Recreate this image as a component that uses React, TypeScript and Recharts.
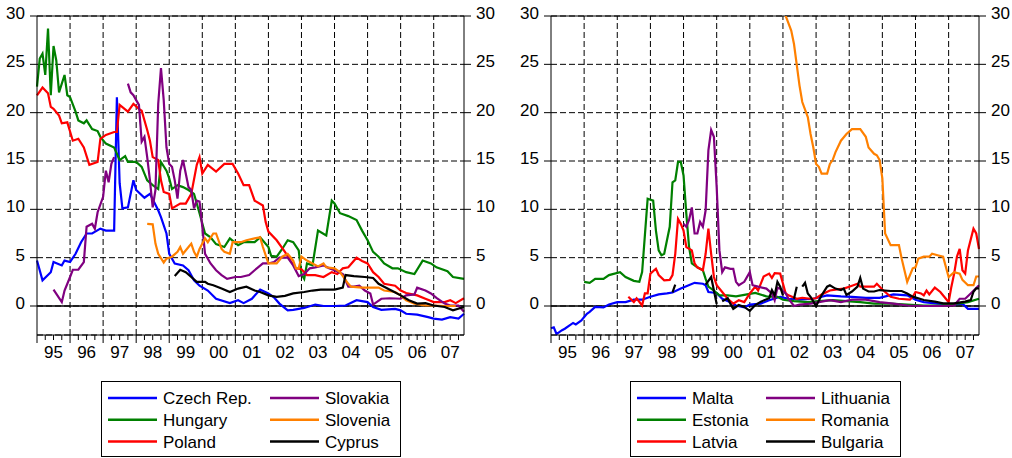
import { LineChart, Line, XAxis, YAxis, CartesianGrid, ReferenceLine } from "recharts"

type Pt = [number, number | null]

// month index from Jan 1995 (0) to Dec 2007 (155), value in %
const czech: Pt[] = [[0,4.7],[2,2.65],[5,3.5],[6,4.55],[9,4.2],[10,4.7],[12,4.55],[14,5.4],[16,6.6],[18,7.5],[20,7.5],[23,8.0],[25,7.8],[28,7.8],[29,21.6],[30,12.7],[31,10.1],[33,10.2],[35,13.0],[36,12.0],[39,11.2],[41,11.6],[44,9.9],[45,9.2],[47,7.5],[48,5.4],[50,4.4],[53,4.2],[55,3.7],[57,2.65],[59,2.1],[62,1.6],[65,0.75],[70,0.3],[73,0.6],[75,0.3],[78,0.75],[81,1.7],[84,1.3],[86,0.9],[88,0.25],[91,-0.45],[93,-0.4],[97,-0.2],[101,0.15],[104,0],[108,0],[112,0.05],[116,0.6],[120,0.4],[122,-0.1],[125,-0.4],[130,-0.3],[132,-0.45],[134,-0.8],[138,-0.9],[142,-1.15],[144,-1.3],[147,-1.4],[150,-1.15],[153,-1.3],[155,-0.8]]
const hungary: Pt[] = [[0,22.7],[1,25.6],[2,26.1],[3,23.9],[4,28.7],[5,21.8],[6,26.9],[7,25.4],[8,22.1],[10,23.9],[11,21.8],[12,21.6],[14,20.1],[15,19.2],[17,18.9],[18,19.2],[20,18.3],[22,18.1],[23,17.5],[25,16.8],[28,16.4],[30,15.1],[32,15.5],[33,14.9],[36,14.9],[38,14.4],[40,13.0],[42,12.5],[44,12.1],[45,14.9],[47,14.0],[48,13.2],[49,12.1],[51,12.5],[53,12.3],[55,12.0],[57,11.6],[59,9.6],[61,7.5],[63,7.1],[65,6.4],[68,6.1],[70,7.0],[73,6.3],[75,6.6],[79,6.6],[81,7.1],[84,6.1],[85,5.2],[87,5.1],[89,5.9],[91,6.8],[93,6.6],[95,5.75],[96,3.3],[97,2.8],[98,4.4],[100,4.2],[102,7.8],[105,7.3],[107,10.9],[108,10.6],[110,9.6],[113,9.3],[116,8.9],[118,7.8],[120,6.8],[122,5.6],[124,5.1],[126,4.4],[129,3.9],[131,3.9],[134,3.5],[137,3.3],[140,4.7],[143,4.4],[145,4.0],[149,3.6],[151,3.0],[155,2.8]]
const poland: Pt[] = [[0,21.8],[2,22.6],[4,22.0],[5,20.6],[6,20.4],[8,19.7],[9,18.9],[11,19.0],[13,17.1],[15,17.3],[17,16.4],[19,14.6],[22,14.9],[23,17.3],[25,17.7],[28,18.0],[29,18.0],[30,20.8],[33,20.1],[35,20.9],[37,20.4],[38,20.2],[40,18.2],[41,17.1],[42,15.4],[44,15.1],[45,13.0],[46,11.8],[48,11.6],[49,10.1],[52,10.6],[54,10.6],[56,11.6],[58,14.6],[59,15.4],[60,13.7],[62,14.6],[65,13.9],[68,14.7],[71,14.7],[73,13.7],[75,12.5],[77,12.5],[79,10.9],[82,10.4],[83,8.7],[84,7.7],[87,6.8],[90,5.6],[92,4.7],[94,3.9],[96,3.8],[98,3.2],[101,3.2],[104,3.0],[107,3.5],[109,3.3],[111,3.9],[113,4.0],[116,5.0],[118,4.65],[120,4.4],[122,3.5],[124,3.0],[126,2.3],[130,2.1],[132,1.6],[134,1.35],[138,1.1],[141,0.75],[144,0.4],[148,0.4],[150,0.6],[152,0.3],[155,0.8]]
const slovakia: Pt[] = [[6,1.7],[9,0.4],[10,1.6],[12,3.0],[13,3.75],[15,3.75],[17,4.55],[18,8.2],[20,8.5],[21,8.0],[22,9.7],[24,11.3],[25,14.0],[26,12.8],[27,14.7],[28,15.4],[29,null],[33,23.0],[34,22.1],[35,21.8],[36,21.3],[37,20.8],[38,17.0],[39,17.5],[40,15.4],[41,13.0],[42,10.2],[43,12.0],[44,20.9],[45,24.6],[46,21.3],[47,16.4],[48,14.7],[49,14.4],[50,13.0],[51,11.1],[52,14.0],[53,15.1],[54,13.7],[55,12.3],[56,12.0],[57,10.1],[58,10.9],[59,10.8],[60,8.2],[61,5.4],[63,4.4],[65,3.7],[67,3.2],[69,2.8],[72,3.0],[74,3.0],[77,3.2],[79,3.7],[82,4.4],[84,4.4],[86,4.55],[88,5.0],[91,5.0],[93,4.2],[95,3.1],[97,3.3],[99,3.9],[101,4.0],[104,4.2],[106,3.9],[108,3.7],[111,3.3],[113,2.0],[115,2.0],[117,2.1],[119,1.6],[121,1.3],[122,0.15],[125,0.75],[128,0.8],[132,0.75],[134,1.1],[137,1.2],[138,1.9],[141,1.6],[143,1.3],[145,0.85],[148,0.25],[150,0.05],[153,0.05],[155,-0.6]]
const slovenia: Pt[] = [[40,8.5],[42,8.45],[43,6.45],[44,5.4],[46,4.5],[47,4.9],[49,5.1],[51,5.6],[52,6.1],[53,5.4],[55,6.1],[56,6.45],[57,5.6],[58,5.1],[59,5.9],[61,7.0],[62,6.6],[64,7.5],[65,7.5],[67,5.9],[68,5.6],[70,5.4],[71,6.6],[74,6.6],[76,6.8],[79,7.0],[81,7.1],[82,6.1],[84,4.4],[87,4.4],[89,5.1],[91,5.4],[93,4.7],[94,3.9],[95,3.9],[96,5.1],[98,4.7],[100,4.4],[102,4.1],[104,4.4],[105,4.0],[108,3.9],[110,3.5],[113,2.3],[114,2.0],[118,1.9],[120,1.9],[124,1.9],[126,1.6],[130,1.45],[132,1.1],[134,0.6],[137,0.25],[141,0.05],[144,0.05],[148,0],[152,0]]
const cyprus: Pt[] = [[50,3.1],[52,3.75],[54,3.5],[56,3.0],[58,2.5],[61,2.5],[62,2.3],[64,2.15],[67,1.8],[70,1.45],[73,1.8],[76,2.0],[79,1.6],[81,1.45],[84,1.1],[87,0.95],[90,1.05],[93,1.3],[97,1.45],[100,1.6],[103,1.7],[108,1.7],[111,1.9],[112,3.2],[115,3.1],[119,3.0],[122,2.9],[124,2.3],[126,2.0],[129,1.55],[132,1.1],[135,0.6],[138,0.25],[141,0.3],[144,0.05],[148,-0.1],[151,-0.45],[155,-0.1]]

const malta: Pt[] = [[0,-2.3],[1,-2.2],[2,-2.9],[4,-2.5],[5,-2.35],[8,-1.75],[9,-1.9],[11,-1.5],[13,-0.8],[14,-0.6],[16,-0.1],[19,-0.15],[21,0.15],[24,0.4],[27,0.4],[30,0.65],[33,0.65],[36,0.95],[39,1.2],[42,1.3],[44,1.4],[47,1.8],[49,2.05],[52,2.4],[55,2.3],[56,2.15],[57,1.45],[60,1.35],[62,0.75],[65,0.4],[67,0.05],[70,-0.15],[72,0.15],[76,0.25],[79,0.6],[83,0.95],[86,0.75],[90,0.65],[95,0.75],[100,1.1],[105,1.0],[109,0.95],[114,0.85],[119,0.85],[124,1.2],[129,1.1],[132,0.65],[135,0.4],[140,0.25],[145,0.15],[149,0.25],[151,-0.3],[155,-0.3]]
const estonia: Pt[] = [[12,2.5],[14,2.4],[16,2.8],[19,2.8],[21,3.2],[25,3.5],[27,3.0],[30,2.6],[32,2.5],[33,3.5],[34,7.3],[35,11.1],[37,10.9],[38,7.8],[39,5.75],[40,5.25],[41,5.4],[43,8.2],[44,12.8],[45,13.0],[46,14.9],[47,14.9],[48,13.5],[49,9.55],[50,6.1],[51,4.4],[53,4.0],[55,3.7],[56,2.8],[57,2.0],[59,1.6],[61,1.1],[64,1.1],[67,1.0],[71,1.2],[74,1.35],[78,1.0],[82,0.95],[84,0.65],[88,0.5],[93,0.4],[97,0.5],[102,0.6],[107,0.5],[112,0.4],[117,0.25],[123,0.25],[129,0.15],[135,0.05],[141,0.05],[147,0.25],[151,0.4],[155,0.75]]
const latvia: Pt[] = [[28,0.95],[30,0.4],[31,0.8],[33,0.05],[34,1.3],[35,1.3],[36,3.35],[38,3.85],[39,3.2],[41,2.65],[43,2.7],[44,3.2],[45,5.4],[46,9.0],[47,8.5],[48,7.8],[49,6.1],[51,5.75],[52,4.4],[53,4.0],[55,3.7],[56,5.4],[57,8.0],[58,5.4],[59,3.0],[60,2.15],[62,1.45],[64,0.75],[66,0.25],[68,0.6],[70,0.4],[72,1.3],[74,2.0],[75,1.6],[77,3.05],[79,3.35],[80,2.9],[81,3.4],[83,3.35],[85,1.3],[86,1.1],[89,0.75],[91,0.85],[94,0.75],[96,0.8],[98,1.2],[101,1.6],[103,1.7],[106,1.8],[108,2.0],[111,2.3],[112,2.0],[114,2.0],[117,2.0],[118,2.3],[120,1.7],[123,0.95],[126,0.75],[130,0.65],[131,0.95],[132,1.45],[134,1.3],[135,1.1],[136,1.6],[137,1.2],[139,1.9],[141,1.45],[143,0.75],[144,0.4],[145,2.0],[146,3.35],[147,5.1],[148,5.9],[149,3.7],[150,3.35],[151,5.75],[153,8.0],[154,7.5],[155,5.9]]
const lithuania: Pt[] = [[48,8.5],[49,8.2],[50,8.9],[51,10.2],[52,7.5],[53,7.5],[54,8.7],[55,8.2],[56,9.9],[57,16.1],[58,18.2],[59,17.5],[60,12.3],[61,5.75],[62,3.5],[63,4.0],[65,3.85],[66,3.85],[67,2.5],[68,2.15],[70,2.5],[72,3.5],[73,2.15],[75,2.0],[78,1.8],[80,1.3],[81,0.6],[82,1.9],[83,1.8],[85,1.3],[86,0.75],[88,0],[90,0.15],[94,0.25],[97,0.4],[101,0.6],[105,0.4],[109,0.65],[114,0.65],[119,0.4],[124,0.25],[129,0.05],[135,0],[141,0],[146,0.05],[148,0.75],[150,0.75],[152,1.3],[155,2.15]]
const romania: Pt[] = [[84,31.0],[85,30],[87,28.5],[88,27.1],[90,22.8],[91,21.1],[93,19.55],[94,17.8],[95,16.4],[96,14.7],[97,14.4],[98,13.7],[100,13.7],[101,14.7],[102,15.1],[103,15.9],[105,17.1],[107,17.8],[109,18.3],[112,18.3],[114,17.5],[115,16.4],[117,15.75],[118,15.6],[119,15.1],[120,13.2],[121,7.5],[123,6.3],[125,6.3],[126,6.3],[127,4.9],[128,3.7],[129,2.5],[131,3.9],[132,4.0],[133,4.9],[135,5.1],[137,5.1],[138,5.4],[140,5.25],[142,5.1],[144,3.0],[146,3.5],[148,3.35],[149,2.7],[151,2.15],[153,2.15],[154,3.05],[155,3.05]]
const bulgaria: Pt[] = [[44,1.4],[45,2.2],[46,null],[56,2.2],[57,2.6],[58,3.0],[59,1.6],[60,0.2],[61,null],[62,0.5],[64,0.8],[65,0.2],[66,-0.3],[68,0.1],[70,-0.1],[72,-0.5],[74,0.1],[76,0.45],[79,0.8],[80,1.65],[81,1.1],[82,2.5],[83,2.0],[84,1.1],[85,null],[88,0.75],[89,2.0],[90,null],[91,2.0],[92,2.4],[93,1.3],[94,0.95],[96,0.0],[98,1.1],[100,2.0],[101,2.15],[103,1.8],[105,1.65],[106,1.8],[107,1.15],[109,1.5],[111,2.0],[112,2.9],[113,1.8],[115,1.5],[117,1.5],[119,1.65],[123,1.55],[127,1.55],[129,1.3],[131,0.97],[135,0.62],[139,0.45],[142,0.28],[146,0.28],[150,0.45],[152,0.62],[153,1.48],[154,1.83],[155,1.83]]

const leftNames = ["Czech Rep.", "Hungary", "Poland", "Slovakia", "Slovenia", "Cyprus"]
const rightNames = ["Malta", "Estonia", "Latvia", "Lithuania", "Romania", "Bulgaria"]
const colors = ["#0000ff", "#008000", "#ff0000", "#800080", "#ff8000", "#000000"]

const yearLabels = ["95", "96", "97", "98", "99", "00", "01", "02", "03", "04", "05", "06", "07"]
const yTicks = [0, 5, 10, 15, 20, 25, 30]
const quarterTicks = [0, 3, 6, 9, 12, 15, 18, 21, 24, 27, 30, 33, 36, 39, 42, 45, 48, 51, 54, 57, 60, 63, 66, 69, 72, 75, 78, 81, 84, 87, 90, 93, 96, 99, 102, 105, 108, 111, 114, 117, 120, 123, 126, 129, 132, 135, 138, 141, 144, 147, 150, 153]
const yearStarts = [12, 24, 36, 48, 60, 72, 84, 96, 108, 120, 132, 144]

const FONT = "'Liberation Sans', Arial, sans-serif"
const DASH = "6 3"

const MonthTick = (props: any) => {
  const { x, y, payload } = props
  const m = payload.value
  const label = m % 12 === 6 ? yearLabels[(m - 6) / 12] : ""
  return (
    <g>
      <line x1={x} x2={x} y1={y} y2={y + (m % 12 === 0 ? 8 : 5)} stroke="#000" />
      {label && (
        <text x={x} y={y + 23} textAnchor="middle" fontSize={17} fontFamily={FONT} fill="#000">
          {label}
        </text>
      )}
    </g>
  )
}

const ValueTick = (props: any) => {
  const { x, y, payload, textAnchor } = props
  return (
    <text x={x} y={y - 3} dy="0.36em" textAnchor={textAnchor} fontSize={17} fontFamily={FONT} fill="#000">
      {payload.value}
    </text>
  )
}

function Panel({ names, data, left, yLeftW, yRightW }: { names: string[]; data: Pt[][]; left: number; yLeftW: number; yRightW: number }) {
  return (
    <div style={{ position: "absolute", left, top: 0 }}>
      <LineChart width={506} height={370} margin={{ top: 16, right: 0, bottom: 0, left: 0 }}>
        <CartesianGrid vertical={false} yAxisId="l" stroke="#000" strokeDasharray={DASH} />
        <XAxis
          type="number"
          dataKey="m"
          domain={[0, 155]}
          ticks={quarterTicks}
          interval={0}
          height={35}
          tickSize={0}
          tickMargin={0}
          tickLine={false}
          axisLine={{ stroke: "#000" }}
          tick={<MonthTick />}
        />
        <YAxis
          yAxisId="l"
          domain={[-3, 30]}
          allowDataOverflow
          ticks={yTicks}
          width={yLeftW}
          tickSize={7}
          tickMargin={5}
          axisLine={{ stroke: "#000" }}
          tickLine={{ stroke: "#000" }}
          tick={<ValueTick />}
        />
        <YAxis
          yAxisId="r"
          orientation="right"
          domain={[-3, 30]}
          allowDataOverflow
          ticks={yTicks}
          width={yRightW}
          tickSize={7}
          tickMargin={5}
          axisLine={{ stroke: "#000" }}
          tickLine={{ stroke: "#000" }}
          tick={<ValueTick />}
        />
        {yearStarts.map((m) => (
          <ReferenceLine key={m} x={m} yAxisId="l" stroke="#000" strokeDasharray={DASH} />
        ))}
        <ReferenceLine y={30} yAxisId="l" stroke="#000" />
        <ReferenceLine y={0} yAxisId="l" stroke="#000" strokeWidth={1.5} />
        {data.map((series, i) => (
          <Line
            key={names[i]}
            yAxisId="l"
            data={series.map(([m, v]) => ({ m, v }))}
            dataKey="v"
            type="linear"
            stroke={colors[i]}
            strokeWidth={2.2}
            dot={false}
            activeDot={false}
            isAnimationActive={false}
          />
        ))}
      </LineChart>
    </div>
  )
}

function Legend({ names, left, width, col2 }: { names: string[]; left: number; width: number; col2: number }) {
  return (
    <svg style={{ position: "absolute", left, top: 381 }} width={width} height={77}>
      <rect x={0.5} y={0.5} width={width - 1} height={75} fill="none" stroke="#000" />
      {names.map((name, i) => {
        const cx = i < 3 ? 7 : col2
        const cy = 17 + (i % 3) * 21.7
        return (
          <g key={name}>
            <line x1={cx} x2={cx + 49} y1={cy} y2={cy} stroke={colors[i]} strokeWidth={2.5} />
            <text x={cx + 55} y={cy} dy="0.36em" fontSize={17} fontFamily={FONT} fill="#000">
              {name}
            </text>
          </g>
        )
      })}
    </svg>
  )
}

export default function App() {
  return (
    <div style={{ position: "absolute", left: 0, top: 0, width: 1012, height: 458, background: "#fff", fontFamily: FONT }}>
      <Panel names={leftNames} data={[czech, hungary, poland, slovakia, slovenia, cyprus]} left={0} yLeftW={37} yRightW={42} />
      <Panel names={rightNames} data={[malta, estonia, latvia, lithuania, romania, bulgaria]} left={506} yLeftW={45} yRightW={33} />
      <Legend names={leftNames} left={101} width={300} col2={169} />
      <Legend names={rightNames} left={630} width={271} col2={136} />
    </div>
  )
}
